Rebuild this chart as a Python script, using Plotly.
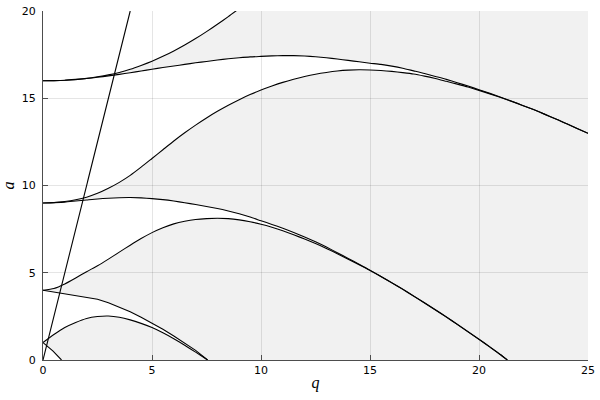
import plotly.graph_objects as go

# ─── Data (q on x, a on y) ───────────────────────────────────────────────
Q_MIN, Q_MAX = 0, 25
A_MIN, A_MAX = 0, 20
TICKS_Q = [0, 5, 10, 15, 20, 25]
TICKS_A = [0, 5, 10, 15, 20]

q_line = [0.0, 4.0]
a_line = [0.0, 20.0]

q_b1 = [0.0, 0.45, 0.85]
a_b1 = [1.0, 0.52, 0.0]

q_a1 = [0, 0.5, 1, 1.5, 2, 2.5, 3, 3.5, 4, 4.5, 5, 5.5, 6, 6.5, 7, 7.5, 7.55]
a_a1 = [1.0, 1.46, 1.86, 2.15, 2.38, 2.49, 2.52, 2.45, 2.3, 2.1, 1.86, 1.56,
        1.22, 0.85, 0.45, 0.04, 0.0]

q_b2 = [0, 2.5, 3, 3.5, 4, 4.5, 5, 5.5, 6, 6.5, 7, 7.55]
a_b2 = [4.0, 3.48, 3.28, 3.04, 2.76, 2.45, 2.12, 1.76, 1.38, 0.98, 0.55, 0.0]

q_a2 = [0, 0.5, 1, 1.5, 2, 2.5, 3, 3.5, 4, 4.5, 5, 5.5, 6, 6.5, 7, 7.5, 8,
        8.5, 9, 9.5, 10, 10.5, 11, 11.5, 12, 12.5, 13, 13.5, 14, 14.5, 15,
        15.5, 16, 16.5, 17, 17.5, 18, 18.5, 19, 19.5, 20, 20.5, 21, 21.3]
a_a2 = [4.0, 4.10, 4.36, 4.70, 5.06, 5.40, 5.78, 6.18, 6.58, 6.96, 7.30, 7.58,
        7.80, 7.95, 8.05, 8.10, 8.12, 8.10, 8.03, 7.92, 7.78, 7.61, 7.41, 7.18,
        6.93, 6.67, 6.39, 6.09, 5.78, 5.46, 5.13, 4.78, 4.42, 4.05, 3.66, 3.27,
        2.87, 2.46, 2.04, 1.61, 1.18, 0.74, 0.29, 0.0]

q_b3 = list(q_a2)
a_b3 = [9.0, 9.02, 9.05, 9.11, 9.17, 9.23, 9.27, 9.30, 9.31, 9.29, 9.25, 9.19,
        9.11, 9.01, 8.91, 8.80, 8.68, 8.54, 8.38, 8.19, 7.98, 7.77, 7.55, 7.31,
        7.05, 6.77, 6.47, 6.15, 5.82, 5.49, 5.15, 4.79, 4.43, 4.06, 3.67, 3.28,
        2.88, 2.47, 2.05, 1.62, 1.19, 0.75, 0.30, 0.0]

q_a3 = [0, 0.5, 1, 1.5, 2, 2.5, 3, 3.5, 4, 4.5, 5, 5.5, 6, 6.5, 7, 7.5, 8,
        8.5, 9, 9.5, 10, 10.5, 11, 11.5, 12, 12.5, 13, 13.5, 14, 14.5, 15,
        15.5, 16, 16.5, 17, 17.5, 18, 18.5, 19, 19.5, 20, 20.5, 21, 21.5, 22,
        22.5, 23, 23.5, 24, 24.5, 25]
a_a3 = [9.0, 9.02, 9.08, 9.18, 9.33, 9.55, 9.84, 10.18, 10.58, 11.05, 11.55,
        12.05, 12.55, 13.02, 13.46, 13.87, 14.25, 14.60, 14.92, 15.21, 15.47,
        15.70, 15.91, 16.09, 16.25, 16.38, 16.48, 16.56, 16.61, 16.63, 16.62,
        16.59, 16.54, 16.47, 16.39, 16.27, 16.13, 15.97, 15.81, 15.64, 15.45,
        15.25, 15.04, 14.82, 14.59, 14.35, 14.09, 13.83, 13.55, 13.27, 12.99]

q_b4 = list(q_a3)
a_b4 = [16.0, 16.01, 16.03, 16.07, 16.13, 16.2, 16.28, 16.37, 16.46, 16.56,
        16.66, 16.76, 16.85, 16.94, 17.03, 17.11, 17.19, 17.26, 17.32, 17.37,
        17.40, 17.43, 17.44, 17.44, 17.42, 17.38, 17.32, 17.25, 17.17, 17.09,
        17.01, 16.94, 16.84, 16.72, 16.57, 16.42, 16.25, 16.08, 15.89, 15.70,
        15.49, 15.28, 15.06, 14.83, 14.59, 14.35, 14.09, 13.83, 13.55, 13.27,
        12.99]

q_a4 = [0, 0.5, 1, 1.5, 2, 2.5, 3, 3.5, 4, 4.5, 5, 5.5, 6, 6.5, 7, 7.5, 8,
        8.5, 9]
a_a4 = [16.0, 16.01, 16.03, 16.08, 16.14, 16.23, 16.34, 16.48, 16.66, 16.88,
        17.12, 17.40, 17.71, 18.05, 18.42, 18.82, 19.24, 19.68, 20.14]

# ─── Style ───────────────────────────────────────────────────────────────
FILL_COLOR = "rgba(0,0,0,0.055)"
LINE_COLOR = "#000000"
AXIS_COLOR = "#4d4d4d"
GRID_COLOR = "rgba(0,0,0,0.1)"

fig = go.Figure()

# Unstable bands (grey), built from the boundary curves
bands = [
    (q_a1 + q_b1[::-1], a_a1 + a_b1[::-1]),
    (q_a2 + q_b2[::-1], a_a2 + a_b2[::-1]),
    (q_a3 + [Q_MAX] + q_b3[::-1], a_a3 + [A_MIN] + a_b3[::-1]),
    (q_a4 + [Q_MAX] + q_b4[::-1], a_a4 + [A_MAX] + a_b4[::-1]),
]
for xs, ys in bands:
    fig.add_trace(go.Scatter(
        x=xs, y=ys, mode="lines", fill="toself", fillcolor=FILL_COLOR,
        line=dict(width=0), hoverinfo="skip", showlegend=False,
    ))

# Boundary curves (b1, b2 and the straight line stay piecewise linear)
curves = [
    (q_b1, a_b1, "linear"), (q_a1, a_a1, "spline"), (q_b2, a_b2, "linear"),
    (q_a2, a_a2, "spline"), (q_b3, a_b3, "spline"), (q_a3, a_a3, "spline"),
    (q_b4, a_b4, "spline"), (q_a4, a_a4, "spline"), (q_line, a_line, "linear"),
]
for xs, ys, shape in curves:
    fig.add_trace(go.Scatter(
        x=xs, y=ys, mode="lines",
        line=dict(width=1.1, color=LINE_COLOR, shape=shape, smoothing=0.6),
        hoverinfo="skip", showlegend=False,
    ))

axis_common = dict(
    showgrid=True, gridcolor=GRID_COLOR, gridwidth=1,
    zeroline=False, showline=True, linecolor=AXIS_COLOR, linewidth=1,
    ticks="inside", ticklen=5, tickcolor=AXIS_COLOR, tickwidth=1,
    tickfont=dict(family="DejaVu Sans", size=11, color="#000000"),
    mirror=False, automargin=False, ticklabeloverflow="allow",
)

fig.update_layout(
    width=600, height=400,
    margin=dict(l=43, r=12, t=11, b=40),
    paper_bgcolor="white", plot_bgcolor="white",
    showlegend=False,
    xaxis=dict(
        range=[Q_MIN, Q_MAX], tickvals=TICKS_Q,
        title=dict(text="<i>q</i>", standoff=0,
                   font=dict(family="Liberation Serif", size=16, color="#000000")),
        **axis_common,
    ),
    yaxis=dict(
        range=[A_MIN, A_MAX], tickvals=TICKS_A, ticklabelstandoff=4,
        title=dict(text="<i>a</i>", standoff=16,
                   font=dict(family="Liberation Serif", size=16, color="#000000")),
        **axis_common,
    ),
)

# drop the default page margin so the figure fills the 600x400 window
fig.write_html(
    "out.html",
    config={"displayModeBar": False},
    post_script="document.body.style.margin = '0';",
)
